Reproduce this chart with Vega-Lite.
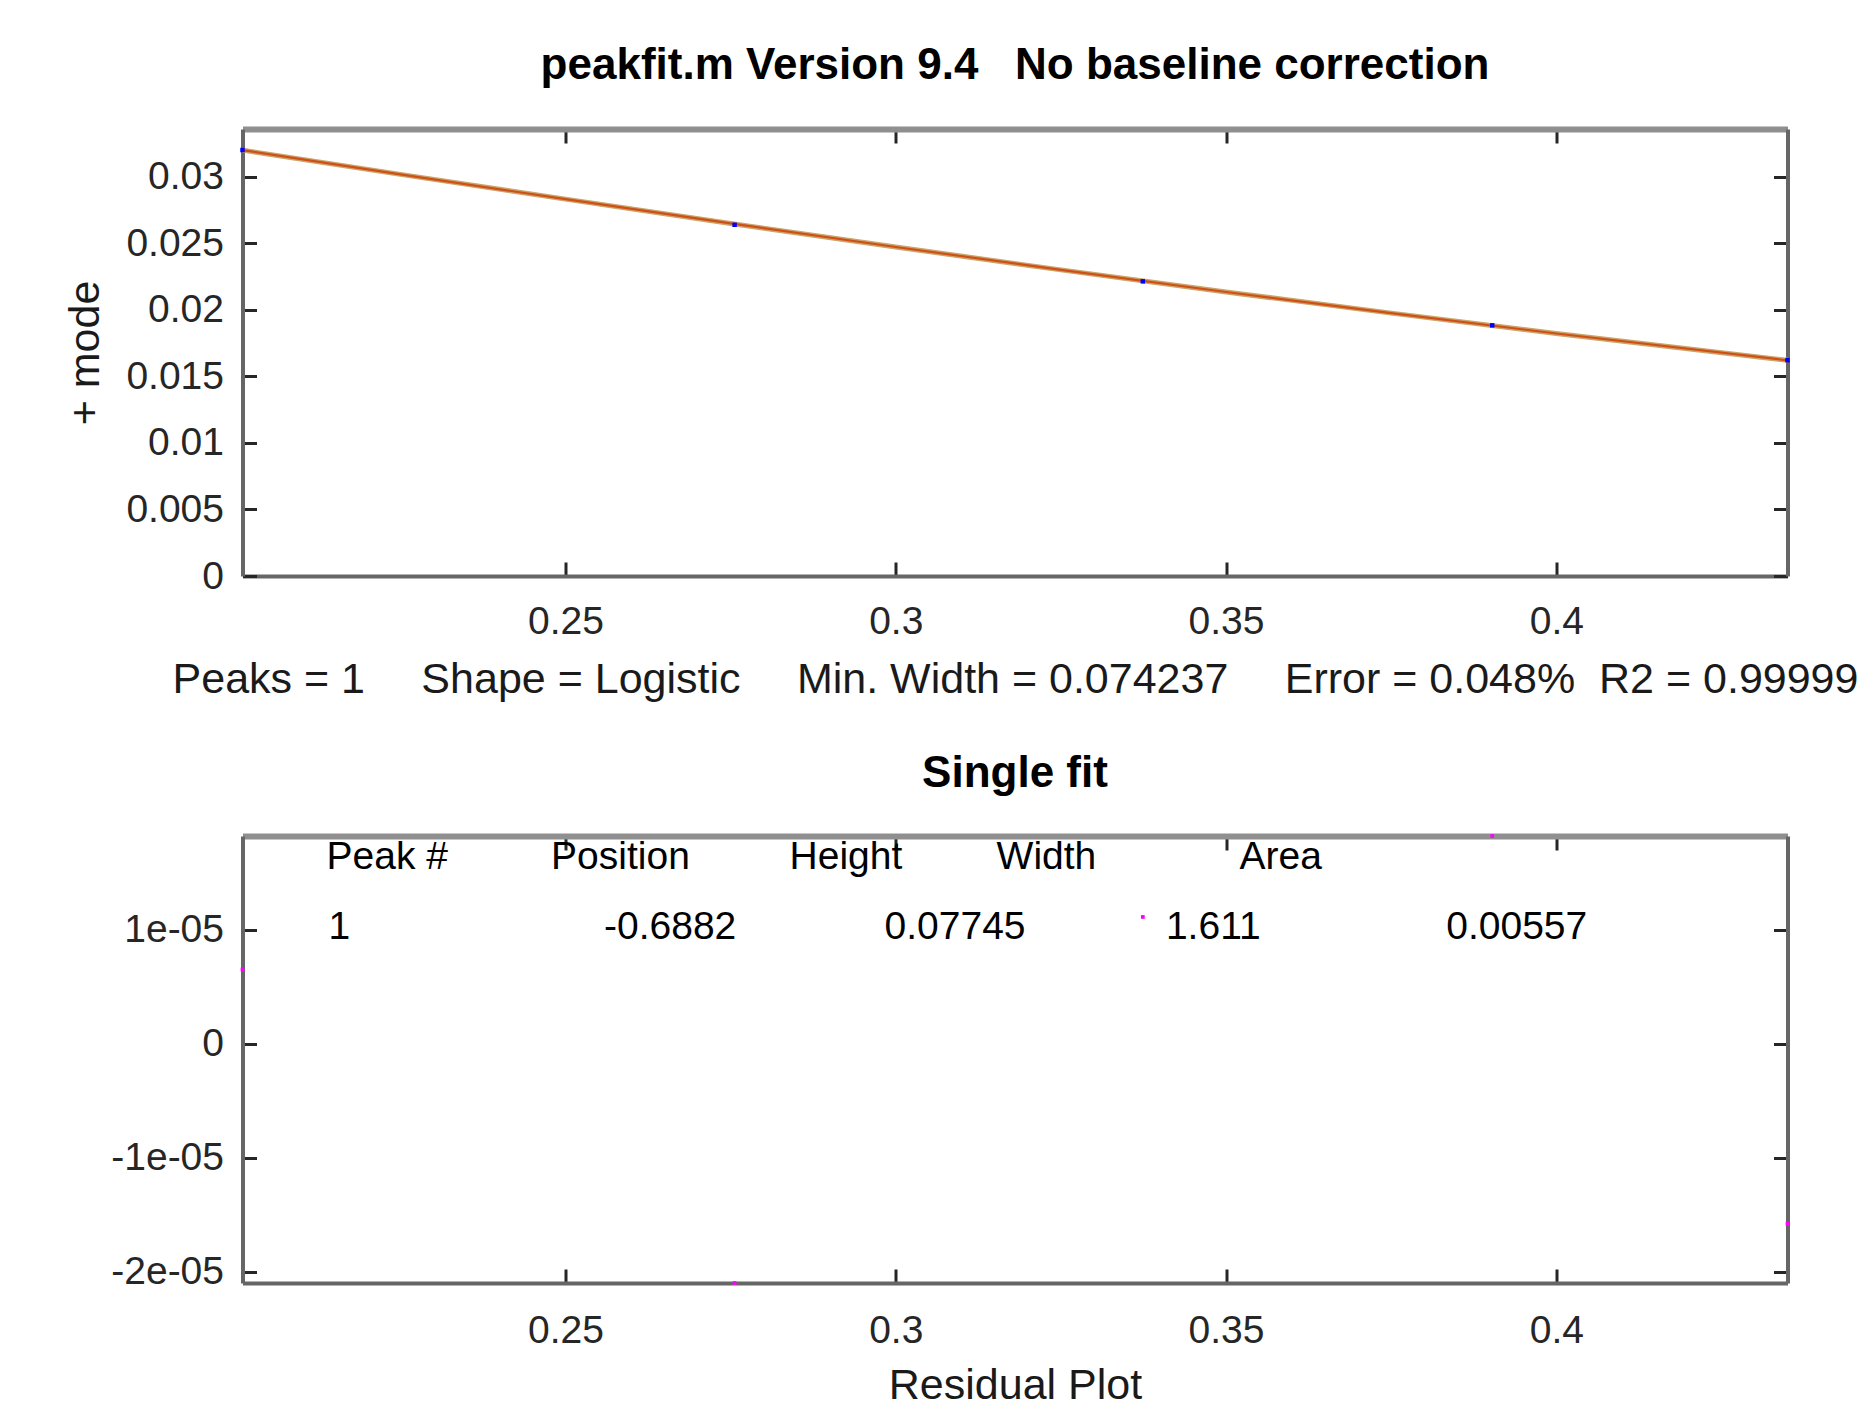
{
  "$schema": "https://vega.github.io/schema/vega-lite/v6.json",
  "background": "white",
  "padding": {"left": 63.5, "top": 43, "right": 0, "bottom": 0},
  "spacing": 50,
  "config": {
    "font": "Liberation Sans",
    "view": {"stroke": null},
    "axis": {
      "labelFont": "Liberation Sans", "labelFontSize": 39, "labelColor": "#262626",
      "tickColor": "#262626", "tickWidth": 3, "tickSize": -14, "grid": false,
      "domainColor": "#666666", "domainWidth": 4,
      "titleFont": "Liberation Sans", "titleFontSize": 43, "titleFontWeight": "normal", "titleColor": "#1a1a1a",
      "labelFlush": false, "labelOverlap": false
    },
    "title": {"font": "Liberation Sans", "fontSize": 44, "fontWeight": "bold", "color": "#000000"}
  },
  "datasets": {
    "fit": [
      {"x": 0.2011, "y": 0.03201}, {"x": 0.225, "y": 0.03019}, {"x": 0.25, "y": 0.02833},
      {"x": 0.275, "y": 0.0265}, {"x": 0.3, "y": 0.02473}, {"x": 0.325, "y": 0.02301},
      {"x": 0.35, "y": 0.02135}, {"x": 0.375, "y": 0.01976}, {"x": 0.4, "y": 0.01823},
      {"x": 0.435, "y": 0.01621}
    ],
    "points": [
      {"x": 0.2011, "y": 0.03202, "residual": 0.0000065},
      {"x": 0.2756, "y": 0.0264, "residual": -0.000021},
      {"x": 0.3374, "y": 0.02215, "residual": 0.0000111},
      {"x": 0.3903, "y": 0.01884, "residual": 0.0000182},
      {"x": 0.435, "y": 0.01622, "residual": -0.0000158}
    ],
    "table": [
      {"x": 0.21382, "y": 0.00001532, "label": "Peak #"},
      {"x": 0.24782, "y": 0.00001532, "label": "Position"},
      {"x": 0.28392, "y": 0.00001532, "label": "Height"},
      {"x": 0.31526, "y": 0.00001532, "label": "Width"},
      {"x": 0.35205, "y": 0.00001532, "label": "Area"},
      {"x": 0.21412, "y": 0.00000918, "label": "1"},
      {"x": 0.25583, "y": 0.00000918, "label": "-0.6882"},
      {"x": 0.2983, "y": 0.00000918, "label": "0.07745"},
      {"x": 0.3409, "y": 0.00000918, "label": "1.611"},
      {"x": 0.38334, "y": 0.00000918, "label": "0.00557"}
    ]
  },
  "vconcat": [
    {
      "width": 1545, "height": 447,
      "title": {"text": "peakfit.m Version 9.4\u00a0\u00a0\u00a0No baseline correction", "anchor": "middle", "baseline": "alphabetic", "offset": 5},
      "resolve": {"axis": {"x": "independent", "y": "independent"}},
      "layer": [
        {
          "data": {"name": "fit"},
          "mark": {"type": "line", "color": "#c9a66b", "strokeWidth": 5},
          "encoding": {
            "x": {"field": "x", "type": "quantitative", "scale": {"domain": [0.2011, 0.435], "nice": false, "zero": false},
              "axis": {"orient": "bottom", "values": [0.25, 0.3, 0.35, 0.4], "format": "~g", "labelPadding": 40.5,
                "title": "Peaks = 1\u00a0\u00a0\u00a0\u00a0\u2009Shape = Logistic\u00a0\u00a0\u00a0\u00a0\u2009Min. Width = 0.074237\u00a0\u00a0\u00a0\u00a0\u2009Error = 0.048%\u00a0\u00a0R2 = 0.99999",
                "titleY": 116, "titleBaseline": "alphabetic"}},
            "y": {"field": "y", "type": "quantitative", "scale": {"domain": [0, 0.0336], "nice": false, "zero": false},
              "axis": {"orient": "left", "values": [0, 0.005, 0.01, 0.015, 0.02, 0.025, 0.03], "format": "~g", "labelPadding": 33,
                "title": "+ mode", "titleX": -144.5, "titleY": 223.5, "titleAngle": 270, "titleBaseline": "alphabetic", "titleAlign": "center"}}
          }
        },
        {
          "data": {"name": "fit"},
          "mark": {"type": "line", "color": "#cf4f17", "strokeWidth": 2.2},
          "encoding": {
            "x": {"field": "x", "type": "quantitative", "axis": null},
            "y": {"field": "y", "type": "quantitative", "axis": null}
          }
        },
        {
          "data": {"name": "points"},
          "mark": {"type": "square", "color": "#0000ff", "size": 20, "opacity": 1},
          "encoding": {
            "x": {"field": "x", "type": "quantitative",
              "axis": {"orient": "top", "values": [0.25, 0.3, 0.35, 0.4], "labels": false, "title": null, "domainColor": "#8f8f8f", "domainWidth": 6}},
            "y": {"field": "y", "type": "quantitative",
              "axis": {"orient": "right", "values": [0, 0.005, 0.01, 0.015, 0.02, 0.025, 0.03], "labels": false, "title": null}}
          }
        }
      ]
    },
    {
      "width": 1545, "height": 447,
      "title": {"text": "Single fit", "anchor": "middle", "baseline": "alphabetic", "offset": 3.5},
      "resolve": {"axis": {"x": "independent", "y": "independent"}},
      "layer": [
        {
          "data": {"name": "points"},
          "mark": {"type": "square", "color": "#ff00ff", "size": 14, "opacity": 1},
          "encoding": {
            "x": {"field": "x", "type": "quantitative", "scale": {"domain": [0.2011, 0.435], "nice": false, "zero": false},
              "axis": {"orient": "bottom", "values": [0.25, 0.3, 0.35, 0.4], "format": "~g", "labelPadding": 42,
                "title": "Residual Plot", "titleY": 115, "titleBaseline": "alphabetic"}},
            "y": {"field": "residual", "type": "quantitative", "scale": {"domain": [-0.000021, 0.0000182], "nice": false, "zero": false},
              "axis": {"orient": "left", "values": [-0.00002, -0.00001, 0, 0.00001], "labelPadding": 33, "title": null,
                "labelExpr": "datum.value == 0 ? '0' : (datum.value > 0 ? '1e-05' : (datum.value > -0.000015 ? '-1e-05' : '-2e-05'))"}}
          }
        },
        {
          "data": {"name": "table"},
          "mark": {"type": "text", "align": "left", "baseline": "alphabetic", "font": "Liberation Sans", "fontSize": 39, "color": "#000000"},
          "encoding": {
            "x": {"field": "x", "type": "quantitative",
              "axis": {"orient": "top", "values": [0.25, 0.3, 0.35, 0.4], "labels": false, "title": null, "domainColor": "#8f8f8f", "domainWidth": 6}},
            "y": {"field": "y", "type": "quantitative",
              "axis": {"orient": "right", "values": [-0.00002, -0.00001, 0, 0.00001], "labels": false, "title": null}},
            "text": {"field": "label", "type": "nominal"}
          }
        }
      ]
    }
  ]
}
